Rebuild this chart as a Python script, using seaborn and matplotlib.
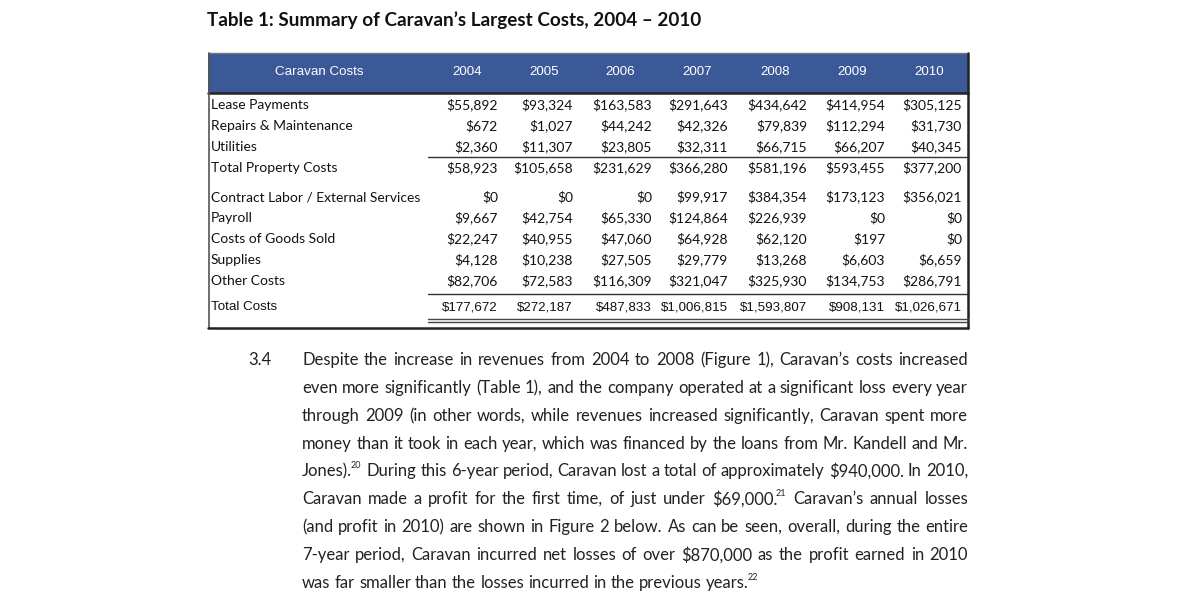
import matplotlib
matplotlib.use("Agg")
import matplotlib.pyplot as plt
from matplotlib import patches
import seaborn as sns

sns.set_theme(style="white")
plt.rcParams["font.family"] = ["Lato", "DejaVu Sans"]
plt.rcParams["text.parse_math"] = False

# --- data -------------------------------------------------------------
title = "Table 1: Summary of Caravan\u2019s Largest Costs, 2004 \u2013 2010"
header_label = "Caravan Costs"
years = [2004, 2005, 2006, 2007, 2008, 2009, 2010]

row_labels = [
    "Lease Payments", "Repairs & Maintenance", "Utilities", "Total Property Costs",
    "Contract Labor / External Services", "Payroll", "Costs of Goods Sold",
    "Supplies", "Other Costs", "Total Costs",
]
lease = [55892, 93324, 163583, 291643, 434642, 414954, 305125]
repairs = [672, 1027, 44242, 42326, 79839, 112294, 31730]
utilities = [2360, 11307, 23805, 32311, 66715, 66207, 40345]
total_property = [58923, 105658, 231629, 366280, 581196, 593455, 377200]
contract_labor = [0, 0, 0, 99917, 384354, 173123, 356021]
payroll = [9667, 42754, 65330, 124864, 226939, 0, 0]
goods_sold = [22247, 40955, 47060, 64928, 62120, 197, 0]
supplies = [4128, 10238, 27505, 29779, 13268, 6603, 6659]
other_costs = [82706, 72583, 116309, 321047, 325930, 134753, 286791]
total_costs = [177672, 272187, 487833, 1006815, 1593807, 908131, 1026671]
row_values = [lease, repairs, utilities, total_property, contract_labor,
              payroll, goods_sold, supplies, other_costs, total_costs]

para_number = "3.4"
para_lines = [
    "Despite the increase in revenues from 2004 to 2008 (Figure 1), Caravan\u2019s costs increased",
    "even more significantly (Table 1), and the company operated at a significant loss every year",
    "through 2009 (in other words, while revenues increased significantly, Caravan spent more",
    "money than it took in each year, which was financed by the loans from Mr. Kandell and Mr.",
    "Jones).^20 During this 6-year period, Caravan lost a total of approximately $940,000. In 2010,",
    "Caravan made a profit for the first time, of just under $69,000.^21 Caravan\u2019s annual losses",
    "(and profit in 2010) are shown in Figure 2 below. As can be seen, overall, during the entire",
    "7-year period, Caravan incurred net losses of over $870,000 as the profit earned in 2010",
    "was far smaller than the losses incurred in the previous years.^22",
]

# --- layout -----------------------------------------------------------
fig = plt.figure(figsize=(12, 6), dpi=100)
ax = fig.add_axes([0, 0, 1, 1])
ax.set_xlim(0, 1200)
ax.set_ylim(600, 0)
ax.axis("off")

ax.text(207, 20, title, fontsize=13.6, fontweight="bold", color="#111111",
        va="center", ha="left")

tab_l, tab_r, tab_t, tab_b = 208, 968, 53, 328
head_b = 93
blue = "#3b5897"
ax.add_patch(patches.Rectangle((tab_l, tab_t), tab_r - tab_l, head_b - tab_t,
                               facecolor=blue, edgecolor="none", zorder=1))
# borders
ax.plot([tab_l, tab_r], [tab_t, tab_t], color="#777777", lw=1, zorder=3)
ax.plot([tab_l, tab_r], [head_b, head_b], color="#222222", lw=1.8, zorder=3)
ax.plot([tab_l + 1, tab_l + 1], [tab_t, tab_b], color="#555555", lw=1.2, zorder=3)
ax.plot([tab_r, tab_r], [tab_t, tab_b], color="#222222", lw=1.8, zorder=3)
ax.plot([tab_l, tab_r], [tab_b, tab_b], color="#222222", lw=1.8, zorder=3)

header_x = [467, 544, 620, 697, 775, 852, 929]
ax.text(319, 72, header_label, color="white", fontsize=9.6,
        family=["Liberation Sans"], ha="center", va="center")
for hx, yr in zip(header_x, years):
    ax.text(hx, 72, str(yr), color="white", fontsize=9.6,
            family=["Liberation Sans"], ha="center", va="center")

row_y = [105, 126, 147, 168, 197, 218, 239, 260, 281, 307]
col_right = [498, 573, 652, 728, 807, 885, 962]
for i, (lab, vals, y) in enumerate(zip(row_labels, row_values, row_y)):
    last = i == len(row_labels) - 1
    fam = ["Liberation Sans"] if last else ["Lato"]
    fs = 9.6 if last else 10
    ax.text(211, y, lab, fontsize=fs, family=fam, color="#111111",
            ha="left", va="center")
    for xr, v in zip(col_right, vals):
        ax.text(xr, y, f"${v:,}", fontsize=fs, family=fam, color="#111111",
                ha="right", va="center")

# rule lines inside table
ax.plot([428, tab_r], [157, 157], color="#333333", lw=1, zorder=3)
ax.plot([428, tab_r], [294, 294], color="#333333", lw=1, zorder=3)
ax.plot([428, tab_r], [319, 319], color="#444444", lw=1, zorder=3)
ax.plot([428, tab_r], [322, 322], color="#444444", lw=1, zorder=3)

# --- justified paragraph ---------------------------------------------
fig.canvas.draw()
renderer = fig.canvas.get_renderer()
para_fs = 12
sup_fs = 6.5
x0, x1 = 302, 968
line_y = [360, 388, 416, 444, 471, 499, 527, 555, 583]


def measure(s, fs):
    t = ax.text(0, 0, s, fontsize=fs)
    w = t.get_window_extent(renderer).width
    t.remove()
    return w


ax.text(248, line_y[0], para_number, fontsize=para_fs, color="#222222",
        ha="left", va="center")

for k, (line, y) in enumerate(zip(para_lines, line_y)):
    tokens = []
    for w in line.split(" "):
        if "^" in w:
            base, sup = w.split("^")
        else:
            base, sup = w, ""
        wb = measure(base, para_fs)
        ws = measure(sup, sup_fs) if sup else 0
        tokens.append((base, sup, wb, ws))
    total_w = sum(t[2] + t[3] for t in tokens)
    gaps = len(tokens) - 1
    if k == len(para_lines) - 1:
        gap = measure("a b", para_fs) - measure("ab", para_fs)
    else:
        gap = (x1 - x0 - total_w) / gaps
    x = x0
    for base, sup, wb, ws in tokens:
        ax.text(x, y, base, fontsize=para_fs, color="#222222",
                ha="left", va="center")
        if sup:
            ax.text(x + wb - 1, y - 6, sup, fontsize=sup_fs, color="#222222",
                    ha="left", va="center")
        x += wb + ws + gap

fig.savefig("out.png", dpi=100, facecolor="white")
